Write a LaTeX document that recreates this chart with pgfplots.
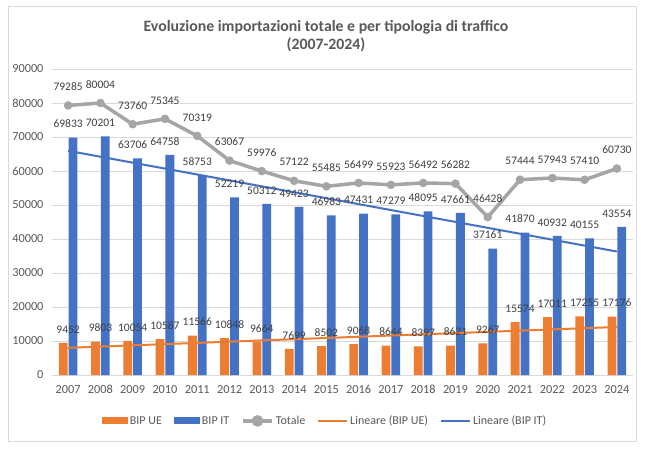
\documentclass[border=0pt]{standalone}
\usepackage{pgfplots}
\pgfplotsset{compat=1.18}
\usepackage{fontspec}
\setmainfont{Carlito}
\definecolor{cOr}{HTML}{ED7D31}
\definecolor{cBl}{HTML}{4472C4}
\definecolor{cGr}{HTML}{A5A5A5}
\definecolor{cTx}{HTML}{595959}
\definecolor{cLb}{HTML}{404040}
\definecolor{cGrid}{HTML}{D9D9D9}
\begin{document}
\begin{tikzpicture}[x=1pt,y=1pt]
\useasboundingbox (-52,-73) rectangle (601,375);
\fill[white] (-52,-73) rectangle (601,375);
\draw[cGrid, line width=0.8pt] (-44,-66) rectangle (584,369);
\node[font=\fontsize{15.8}{18}\selectfont\bfseries, text=cTx] at (274,348) {Evoluzione importazioni totale e per tipologia di traffico};
\node[font=\fontsize{15.8}{18}\selectfont\bfseries, text=cTx] at (274,330) {(2007-2024)};
\begin{axis}[
  at={(0,0)}, anchor=south west, scale only axis,
  width=581pt, height=306pt,
  xmin=0.5, xmax=18.5, ymin=0, ymax=90000,
  xtick={1,...,18},
  xticklabels={2007,2008,2009,2010,2011,2012,2013,2014,2015,2016,2017,2018,2019,2020,2021,2022,2023,2024},
  ytick={0,10000,20000,30000,40000,50000,60000,70000,80000,90000},
  scaled y ticks=false,
  ymajorgrids, grid style={cGrid, line width=0.8pt},
  axis line style={draw=none}, major tick style={draw=none},
  /pgf/number format/1000 sep={},
  /pgf/number format/assume math mode=true,
  ticklabel style={font=\fontsize{12.3}{14}\selectfont, text=cTx},
  yticklabel style={xshift=-5pt},
  xticklabel style={yshift=-6.5pt},
  clip=false,
  legend style={at={(0.47,-0.150)}, anchor=center, draw=none, fill=none,
    legend columns=5, font=\fontsize{12}{14}\selectfont, text=cTx,
    /tikz/every even column/.append style={column sep=10pt}},
  every node near coord/.append style={font=\fontsize{11.5}{13}\selectfont, text=cLb, inner sep=0pt},
]
\addplot[ybar, bar width=8.8pt, bar shift=-4.9pt, fill=cOr, draw=none,
  nodes near coords, every node near coord/.append style={yshift=9.5pt},
  legend image code/.code={\fill[cOr] (0pt,-3.5pt) rectangle (26pt,3.5pt);}]
  coordinates {(1,9452) (2,9803) (3,10054) (4,10587) (5,11566) (6,10848) (7,9664) (8,7699) (9,8502) (10,9068) (11,8644) (12,8397) (13,8621) (14,9267) (15,15574) (16,17011) (17,17255) (18,17176)};
\addlegendentry{BIP UE}
\addplot[ybar, bar width=8.8pt, bar shift=4.9pt, fill=cBl, draw=none,
  nodes near coords, every node near coord/.append style={yshift=9.5pt},
  legend image code/.code={\fill[cBl] (0pt,-3.5pt) rectangle (26pt,3.5pt);}]
  coordinates {(1,69833) (2,70201) (3,63706) (4,64758) (5,58753) (6,52219) (7,50312) (8,49423) (9,46983) (10,47431) (11,47279) (12,48095) (13,47661) (14,37161) (15,41870) (16,40932) (17,40155) (18,43554)};
\addlegendentry{BIP IT}
\addplot[cGr, line width=3.5pt, mark=*, mark size=4pt, mark options={fill=cGr, draw=cGr, line width=0.5pt},
  nodes near coords, every node near coord/.append style={yshift=14.5pt},
  legend image code/.code={\draw[cGr,line width=3.5pt] (0pt,0pt) -- (29pt,0pt); \fill[cGr] (14.5pt,0pt) circle (4pt);}]
  coordinates {(1,79285) (2,80004) (3,73760) (4,75345) (5,70319) (6,63067) (7,59976) (8,57122) (9,55485) (10,56499) (11,55923) (12,56492) (13,56282) (14,46428) (15,57444) (16,57943) (17,57410) (18,60730)};
\addlegendentry{Totale}
\addplot[cOr, line width=2pt,
  legend image code/.code={\draw[cOr,line width=2pt] (0pt,0pt) -- (29pt,0pt);}]
  coordinates {(1,8003) (18,14129)};
\addlegendentry{Lineare (BIP UE)}
\addplot[cBl, line width=2pt,
  legend image code/.code={\draw[cBl,line width=2pt] (0pt,0pt) -- (29pt,0pt);}]
  coordinates {(1,65941) (18,36317)};
\addlegendentry{Lineare (BIP IT)}
\end{axis}
\end{tikzpicture}
\end{document}
